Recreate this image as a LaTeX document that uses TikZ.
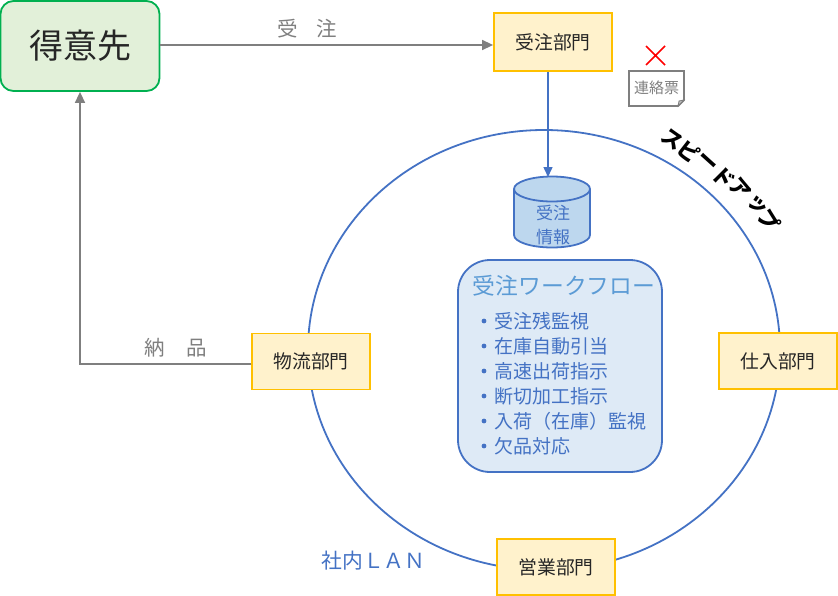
\documentclass[tikz,border=0pt]{standalone}
\usepackage{fontspec}
\setmainfont{Noto Sans CJK JP}
\definecolor{cblue}{HTML}{4472C4}
\definecolor{cyel}{HTML}{FFC000}
\definecolor{cyelf}{HTML}{FFF2CC}
\definecolor{cgrn}{HTML}{00B050}
\definecolor{cgrnf}{HTML}{E2F0D9}
\definecolor{cgray}{HTML}{7F7F7F}
\definecolor{clight}{HTML}{DEEAF6}
\definecolor{cdb}{HTML}{BDD7EE}
\definecolor{chead}{HTML}{5B9BD5}
\tikzset{
 dept/.style={draw=cyel,fill=cyelf,line width=1.8pt,minimum width=118pt,minimum height=56pt,inner sep=0pt,font=\fontsize{18.8}{18.8}\selectfont,text=black!85},
 grayarrow/.style={draw=cgray,line width=1.5pt,-{Triangle[length=11pt,width=10pt]}},
 lab/.style={text=cgray,font=\fontsize{20.5}{20.5}\selectfont,inner sep=0pt},
 li/.style={anchor=west,inner sep=0pt,text=cblue,font=\fontsize{19}{19}\selectfont},
 spd/.style={inner sep=0pt,font=\fontsize{21}{21}\bfseries\selectfont,text=black},
}
\usetikzlibrary{arrows.meta,shapes.geometric}
\begin{document}
\begin{tikzpicture}[x=1pt,y=-1pt]
\useasboundingbox (0,0) rectangle (838,595);
\node[draw=cblue,line width=1.8pt,ellipse,minimum width=472pt,minimum height=440pt,inner sep=0pt] (ring) at (544,350) {};
\node[dept,draw=cgrn,fill=cgrnf,rounded corners=13pt,minimum width=159pt,minimum height=90pt,font=\fontsize{34}{34}\selectfont] (cust) at (80,46) {得意先};
\node[dept,minimum height=58pt] (order) at (553,42) {受注部門};
\node[dept] (logi) at (311,361.5) {物流部門};
\node[dept] (buy) at (778,361) {仕入部門};
\node[dept] (sales) at (556,567) {営業部門};
\coordinate (orderlab) at (307,29);
\coordinate (logilab) at (176,348);
\draw[grayarrow] (cust.east |- 0,45) -- (order.west |- 0,45);
\node[lab] (l1) at (orderlab) {受\hspace{19pt}注};
\coordinate (corner) at (80,364);
\draw[grayarrow] (logi.west |- corner) -- (corner) -- (cust.south -| corner);
\node[lab] (l2) at (logilab) {納\hspace{22pt}品};
% database
\path[draw=cblue,fill=cdb,line width=1.8pt] (514,189) -- (514,235) arc[x radius=38,y radius=12.5,start angle=180,end angle=0] -- (590,189) arc[x radius=38,y radius=12.5,start angle=0,end angle=-180] -- cycle;
\draw[cblue,line width=1.8pt] (514,189) arc[x radius=38,y radius=12.5,start angle=180,end angle=0];
\node[inner sep=0pt,text=cblue,align=center,font=\fontsize{17}{24}\selectfont] (dbt) at (553,225) {受注\\情報};
\coordinate (dbtop) at (548,177);
\draw[cblue,line width=1.5pt,-{Triangle[length=10pt,width=9pt]}] (order.south -| dbtop) -- (dbtop);
% workflow
\node[draw=cblue,fill=clight,line width=1.8pt,rounded corners=32pt,minimum width=204pt,minimum height=212pt,inner sep=0pt] (flow) at (560,366) {};
\node[inner sep=0pt,text=chead,font=\fontsize{22.8}{22.8}\selectfont] (head) at (564,286) {受注ワークフロー};
\foreach \y/\t in {321/受注残監視,346/在庫自動引当,371/高速出荷指示,396/断切加工指示,421/入荷（在庫）監視,446/欠品対応}{
 \fill[cblue] (484,\y) circle (2.4pt);
 \node[li] at (494,\y) {\t};
}
% slip
\path[draw=cgray,fill=white,line width=1.8pt] (629,71) -- (684,71) -- (684,100) -- (678,106) -- (629,106) -- cycle;
\draw[cgray,fill=black!25,line width=.8pt] (684,100) -- (679,101) -- (678,106) -- cycle;
\node[inner sep=0pt,text=cgray,font=\fontsize{15}{15}\selectfont] (slip) at (656.5,88) {連絡票};
\draw[red,line width=1.6pt] (646,46) -- (665,65) (665,46) -- (646,65);
% speedup
\foreach \x/\y/\a/\t in {672/139/35/ス,689/151/38/ピ,707/163/42/ー,723/177/45/ド,740/189/50/ア,757/205/55/ッ,769/220/58/プ}{
 \node[spd,rotate=-\a] at (\x,\y) {\t};
}
\node[inner sep=0pt,text=cblue,font=\fontsize{20.8}{20.8}\selectfont] (lan) at (373.5,561) {社内ＬＡＮ};
\end{tikzpicture}
\end{document}
